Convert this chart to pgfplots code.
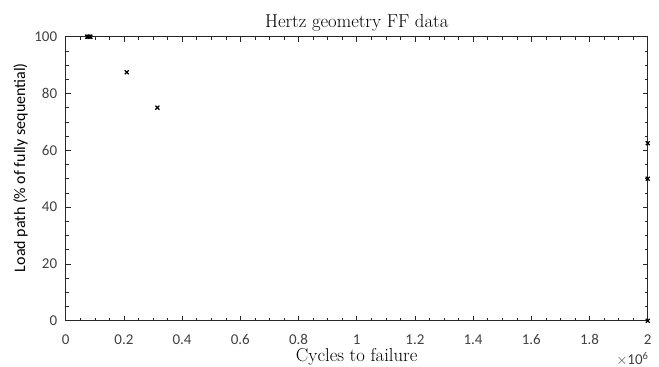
\documentclass[border=0pt]{standalone}
\usepackage{pgfplots}
\pgfplotsset{compat=1.18}
\usepackage{fontspec}
\setsansfont{Carlito}
\definecolor{axgray}{RGB}{38,38,38}
\definecolor{lblgray}{RGB}{64,64,64}
\begin{document}
\begin{tikzpicture}
\useasboundingbox (0,0) rectangle (659pt,367pt);
\begin{axis}[
  at={(65.7pt,46.3pt)}, anchor=south west,
  scale only axis, width=582pt, height=284pt,
  xmin=0, xmax=2, ymin=0, ymax=100,
  xtick={0,0.2,...,2.01},
  xticklabels={0,0.2,0.4,0.6,0.8,1,1.2,1.4,1.6,1.8,2},
  ytick={0,20,40,60,80,100},
  minor x tick num=3, minor y tick num=3,
  tick align=inside,
  major tick length=5pt, minor tick length=3pt,
  axis line style={axgray, line width=0.6pt},
  every tick/.style={axgray, line width=0.6pt},
  every minor tick/.style={axgray, line width=0.5pt},
  /pgf/number format/assume math mode=true,
  tick label style={font=\sffamily\fontsize{15}{18}\selectfont, text=lblgray},
  xticklabel style={anchor=base, inner sep=0pt, yshift=-23.6pt},
  yticklabel style={xshift=-5pt},
  clip=false,
]
\addplot[only marks, mark=x, mark size=2.8pt, line width=1.2pt, black] coordinates {
  (0.074,100) (0.078,100) (0.082,100) (0.085,100)
  (0.2097,87.5) (0.315,75)
  (2,62.5) (2,50) (2,0)
};
\path (rel axis cs:0.5,1) ++(0,9.5pt) node[anchor=base, font=\fontsize{18.7}{22}\selectfont] {Hertz geometry FF data};
\path (rel axis cs:0.5,0) ++(0,-41pt) node[anchor=base, inner sep=0pt, font=\fontsize{18.7}{22}\selectfont] {Cycles to failure};
\path (rel axis cs:0,0.539) ++(-40.7pt,0) node[rotate=90, anchor=base, font=\sffamily\fontsize{16}{20}\selectfont] {Load path (\% of fully sequential)};
\path (rel axis cs:1,0) ++(1pt,-44pt) node[anchor=base east, inner sep=0pt, font=\sffamily\fontsize{15}{18}\selectfont, text=lblgray] {$\times$10\textsuperscript{6}};
\end{axis}
\end{tikzpicture}
\end{document}
